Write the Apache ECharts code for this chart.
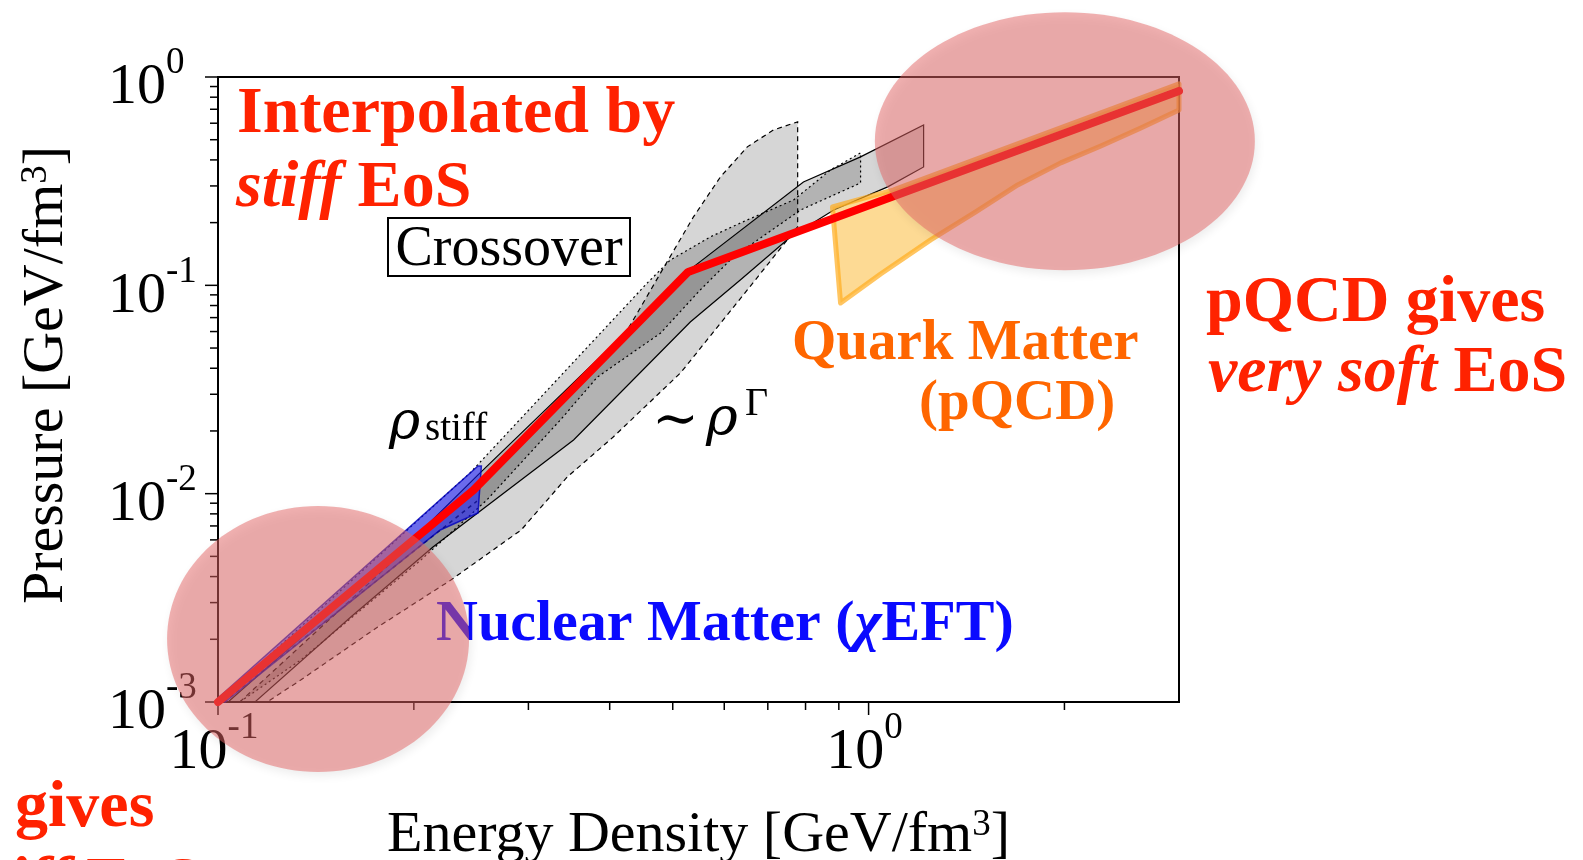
<!DOCTYPE html>
<html><head><meta charset="utf-8">
<script src="https://cdn.jsdelivr.net/npm/echarts@6/dist/echarts.min.js"></script>
<style>html,body{margin:0;padding:0;background:#fff}#c{width:1583px;height:860px}</style>
</head><body><div id="c"></div>
<script>
// ---------- data (energy density [GeV/fm^3], pressure [GeV/fm^3]) ----------
const xRange = [0.1, 3];
const yRange = [0.001, 1];
const xTickExponents = [-1, 0];
const yTickExponents = [-3, -2, -1, 0];
const xMinorTicks = [0.2, 0.3, 0.4, 0.5, 0.6, 0.7, 0.8, 0.9, 2];
const yMinorTicks = [0.002, 0.003, 0.004, 0.005, 0.006, 0.007, 0.008, 0.009,
                     0.02, 0.03, 0.04, 0.05, 0.06, 0.07, 0.08, 0.09,
                     0.2, 0.3, 0.4, 0.5, 0.6, 0.7, 0.8, 0.9];

const stiffEoS = [[0.1, 0.001], [0.247, 0.0104], [0.528, 0.116], [3.0, 0.857]];

const crossoverDashed = [[0.108, 0.001], [0.244, 0.0104], [0.387, 0.0438], [0.426, 0.0611], [0.479, 0.1147],
  [0.538, 0.213], [0.592, 0.3315], [0.651, 0.462], [0.714, 0.557], [0.778, 0.609], [0.778, 0.191],
  [0.651, 0.095], [0.514, 0.038], [0.405, 0.0187], [0.344, 0.012], [0.2925, 0.0067], [0.228, 0.00385],
  [0.176, 0.00229], [0.134, 0.001275], [0.119, 0.001]];

const crossoverDotted = [[0.1, 0.001], [0.244, 0.01257], [0.457, 0.1027], [0.496, 0.1324], [0.571, 0.1708],
  [0.651, 0.2061], [0.767, 0.257], [0.874, 0.358], [0.972, 0.432], [0.972, 0.310], [0.786, 0.230],
  [0.620, 0.137], [0.551, 0.095], [0.479, 0.059], [0.383, 0.0363], [0.336, 0.0226], [0.259, 0.00933],
  [0.205, 0.0048], [0.134, 0.00159], [0.108, 0.001]];

const crossoverSolid = [[0.1036, 0.001], [0.201, 0.0062], [0.251, 0.0123], [0.538, 0.1226], [0.794, 0.3136],
  [0.972, 0.4135], [1.215, 0.589], [1.215, 0.370], [1.07, 0.297], [0.884, 0.230], [0.759, 0.171],
  [0.635, 0.106], [0.532, 0.0667], [0.352, 0.0181], [0.214, 0.00555], [0.160, 0.00256], [0.114, 0.001]];

const chiEFTBand = [[0.1, 0.001045], [0.251, 0.01358], [0.254, 0.01358], [0.251, 0.00808],
  [0.2196, 0.006694], [0.1025, 0.001]];
const chiEFTInner = [[0.102, 0.001], [0.25, 0.0092]];

const pQCDBand = [[0.880, 0.2379], [1.093, 0.2871], [3.0, 0.927], [3.0, 0.695], [2.621, 0.5696],
  [2.275, 0.4669], [1.974, 0.387], [1.695, 0.3034], [1.461, 0.2251], [1.2455, 0.1652], [1.0434, 0.1134],
  [0.9056, 0.0823]];

const regionCenters = [[0.1425, 0.002006], [2.003, 0.4917]];
// ---------- styles ----------
const regionRadiiPx = [[151, 133], [190, 129]];
const F = 'Liberation Serif';
const RED = '#ff2200';

const chart = echarts.init(document.getElementById('c'), null, {renderer: 'canvas'});

function expLabel(v, exps) {
  const l = Math.log10(v);
  const e = Math.round(l);
  if (Math.abs(l - e) > 1e-6 || exps.indexOf(e) < 0) return '';
  return '{b|10}{s|' + (e < 0 ? '-' + (-e) : String(e)) + '}';
}

function polygonSeries(pts, style, z) {
  return {
    type: 'custom', silent: true, z: z, clip: false,
    data: [pts[0]],
    renderItem: function (params, api) {
      return {type: 'polygon', shape: {points: pts.map(p => api.coord(p))}, style: style};
    }
  };
}

const xLabelRich = {
  b: {fontSize: 58, fontFamily: F, color: '#000', padding: [14, 0, 0, 0]},
  s: {fontSize: 37, fontFamily: F, color: '#000', verticalAlign: 'top', padding: [0, 8, 0, 0]}
};
const yLabelRich = {
  b: {fontSize: 58, fontFamily: F, color: '#000', padding: [14, 0, 0, 0]},
  s: {fontSize: 37, fontFamily: F, color: '#000', verticalAlign: 'top'}
};
const nameRich = {s: {fontSize: 37, fontFamily: F, color: '#000', verticalAlign: 'top'}};

const option = {
  backgroundColor: '#fff',
  animation: false,
  grid: {left: 218, right: 404, top: 77, bottom: 158, show: true, borderColor: '#000', borderWidth: 2,
    containLabel: false, outerBoundsMode: 'none'},
  xAxis: {
    type: 'log', logBase: 10, min: xRange[0], max: xRange[1],
    axisLine: {show: true, lineStyle: {color: '#000', width: 2}},
    axisTick: {show: false}, splitLine: {show: false},
    axisLabel: {margin: 8, formatter: v => expLabel(v, xTickExponents), rich: xLabelRich},
    name: 'Energy Density [GeV/fm{s|3}]', nameLocation: 'middle', nameGap: 105,
    nameTextStyle: {fontSize: 58, fontFamily: F, color: '#000', rich: nameRich}
  },
  yAxis: {
    type: 'log', logBase: 10, min: yRange[0], max: yRange[1],
    axisLine: {show: true, lineStyle: {color: '#000', width: 2}},
    axisTick: {show: false}, splitLine: {show: false},
    axisLabel: {margin: 110, align: 'left', padding: [8, 0, 0, 0], formatter: v => expLabel(v, yTickExponents), rich: yLabelRich},
    name: 'Pressure [GeV/fm{s|3}]', nameLocation: 'middle', nameGap: 142,
    nameTextStyle: {fontSize: 58, fontFamily: F, color: '#000', padding: [0, 0, 0, 29], rich: nameRich}
  },
  series: [
    // axis ticks (outward)
    {
      type: 'custom', silent: true, z: 3, clip: false,
      data: xMinorTicks.map(v => [v, yRange[0], 8]).concat(xTickExponents.map(e => [Math.pow(10, e), yRange[0], 13])),
      renderItem: function (params, api) {
        const c = api.coord([api.value(0), api.value(1)]);
        return {type: 'line', shape: {x1: c[0], y1: c[1], x2: c[0], y2: c[1] + api.value(2)},
          style: {stroke: '#000', lineWidth: 1.5}};
      }
    },
    {
      type: 'custom', silent: true, z: 3, clip: false,
      data: yMinorTicks.map(v => [xRange[0], v, 8]).concat(yTickExponents.map(e => [xRange[0], Math.pow(10, e), 13])),
      renderItem: function (params, api) {
        const c = api.coord([api.value(0), api.value(1)]);
        return {type: 'line', shape: {x1: c[0] - api.value(2), y1: c[1], x2: c[0], y2: c[1]},
          style: {stroke: '#000', lineWidth: 1.5}};
      }
    },
    polygonSeries(crossoverDashed, {fill: 'rgba(0,0,0,0.16)', stroke: '#000', lineWidth: 1.2, lineDash: [5, 4]}, 4),
    polygonSeries(crossoverDotted, {fill: 'rgba(0,0,0,0.16)', stroke: '#000', lineWidth: 1.2, lineDash: [2, 3]}, 4),
    polygonSeries(crossoverSolid, {fill: 'rgba(0,0,0,0.16)', stroke: '#000', lineWidth: 1.2}, 4),
    polygonSeries(chiEFTBand, {fill: 'rgba(20,20,255,0.55)', stroke: 'rgba(0,0,190,0.8)', lineWidth: 1.5}, 5),
    {
      type: 'line', data: chiEFTInner, symbol: 'none', silent: true, z: 5,
      lineStyle: {color: 'rgba(0,0,120,0.7)', width: 1.5, type: [4, 4]}
    },
    polygonSeries(pQCDBand, {fill: 'rgba(252,188,60,0.55)', stroke: 'rgba(255,172,30,0.7)', lineWidth: 5, lineJoin: 'round'}, 6),
    {
      type: 'line', name: 'stiff EoS', data: stiffEoS, symbol: 'none', silent: true, z: 7,
      lineStyle: {color: '#ff0000', width: 8, join: 'round', cap: 'round'}
    },
    {
      type: 'custom', silent: true, z: 20, clip: false,
      data: regionCenters,
      renderItem: function (params, api) {
        const c = api.coord([api.value(0), api.value(1)]);
        const r = regionRadiiPx[params.dataIndex];
        return {type: 'ellipse', shape: {cx: c[0], cy: c[1], rx: r[0], ry: r[1]},
          style: {fill: 'rgba(228,100,100,0.5)', shadowBlur: 10, shadowColor: 'rgba(0,0,0,0.15)', shadowOffsetX: 2, shadowOffsetY: 4}};
      }
    }
  ],
  graphic: [
    {type: 'text', x: 237, y: 115, style: {text: 'Interpolated by', fill: RED, fontSize: 66, fontWeight: 'bold', fontFamily: F, verticalAlign: 'middle'}},
    {type: 'text', x: 236, y: 189, style: {text: '{i|stiff} EoS', fill: RED, fontSize: 66, fontWeight: 'bold', fontFamily: F, verticalAlign: 'middle',
      rich: {i: {fontSize: 66, fontWeight: 'bold', fontStyle: 'italic', fontFamily: F, fill: RED, color: RED}}}},
    {type: 'rect', shape: {x: 388, y: 218, width: 242, height: 58}, style: {fill: 'none', stroke: '#000', lineWidth: 2}},
    {type: 'text', x: 509, y: 250, style: {text: 'Crossover', fill: '#000', fontSize: 56, fontFamily: F, align: 'center', verticalAlign: 'middle'}},
    {type: 'text', x: 389, y: 424, style: {text: 'ρ', fill: '#000', fontSize: 53, fontStyle: 'italic', fontFamily: 'DejaVu Serif', verticalAlign: 'middle'}},
    {type: 'text', x: 425, y: 430, style: {text: 'stiff', fill: '#000', fontSize: 39, fontFamily: F, verticalAlign: 'middle'}},
    {type: 'text', x: 652, y: 422, style: {text: '∼', fill: '#000', fontSize: 56, fontFamily: 'DejaVu Serif', verticalAlign: 'middle'}},
    {type: 'text', x: 706, y: 421, style: {text: 'ρ', fill: '#000', fontSize: 54, fontStyle: 'italic', fontFamily: 'DejaVu Serif', verticalAlign: 'middle'}},
    {type: 'text', x: 745, y: 404, style: {text: 'Γ', fill: '#000', fontSize: 40, fontFamily: F, verticalAlign: 'middle'}},
    {type: 'text', x: 436, y: 625, style: {text: 'Nuclear Matter ({i|χ}EFT)', fill: '#0a0aff', fontSize: 58, fontWeight: 'bold', fontFamily: F, verticalAlign: 'middle',
      rich: {i: {fontSize: 58, fontWeight: 'bold', fontStyle: 'italic', fontFamily: F, fill: '#0a0aff', color: '#0a0aff'}}}},
    {type: 'text', x: 792, y: 344, style: {text: 'Quark Matter', fill: '#ff6600', fontSize: 57, fontWeight: 'bold', fontFamily: F, verticalAlign: 'middle'}},
    {type: 'text', x: 919, y: 404, style: {text: '(pQCD)', fill: '#ff6600', fontSize: 57, fontWeight: 'bold', fontFamily: F, verticalAlign: 'middle'}},
    {type: 'text', x: 1206, y: 304, style: {text: 'pQCD gives', fill: RED, fontSize: 66, fontWeight: 'bold', fontFamily: F, verticalAlign: 'middle'}},
    {type: 'text', x: 1208, y: 374, style: {text: '{i|very soft} EoS', fill: RED, fontSize: 66, fontWeight: 'bold', fontFamily: F, verticalAlign: 'middle',
      rich: {i: {fontSize: 66, fontWeight: 'bold', fontStyle: 'italic', fontFamily: F, fill: RED, color: RED}}}},
    {type: 'text', x: 15, y: 809, style: {text: 'gives', fill: RED, fontSize: 66, fontWeight: 'bold', fontFamily: F, verticalAlign: 'middle'}},
    {type: 'text', x: 200, y: 885, style: {text: '{i|stiff} EoS', fill: RED, fontSize: 66, fontWeight: 'bold', fontFamily: F, align: 'right', verticalAlign: 'middle',
      rich: {i: {fontSize: 66, fontWeight: 'bold', fontStyle: 'italic', fontFamily: F, fill: RED, color: RED}}}}
  ]
};
chart.setOption(option);
</script>
</body></html>
